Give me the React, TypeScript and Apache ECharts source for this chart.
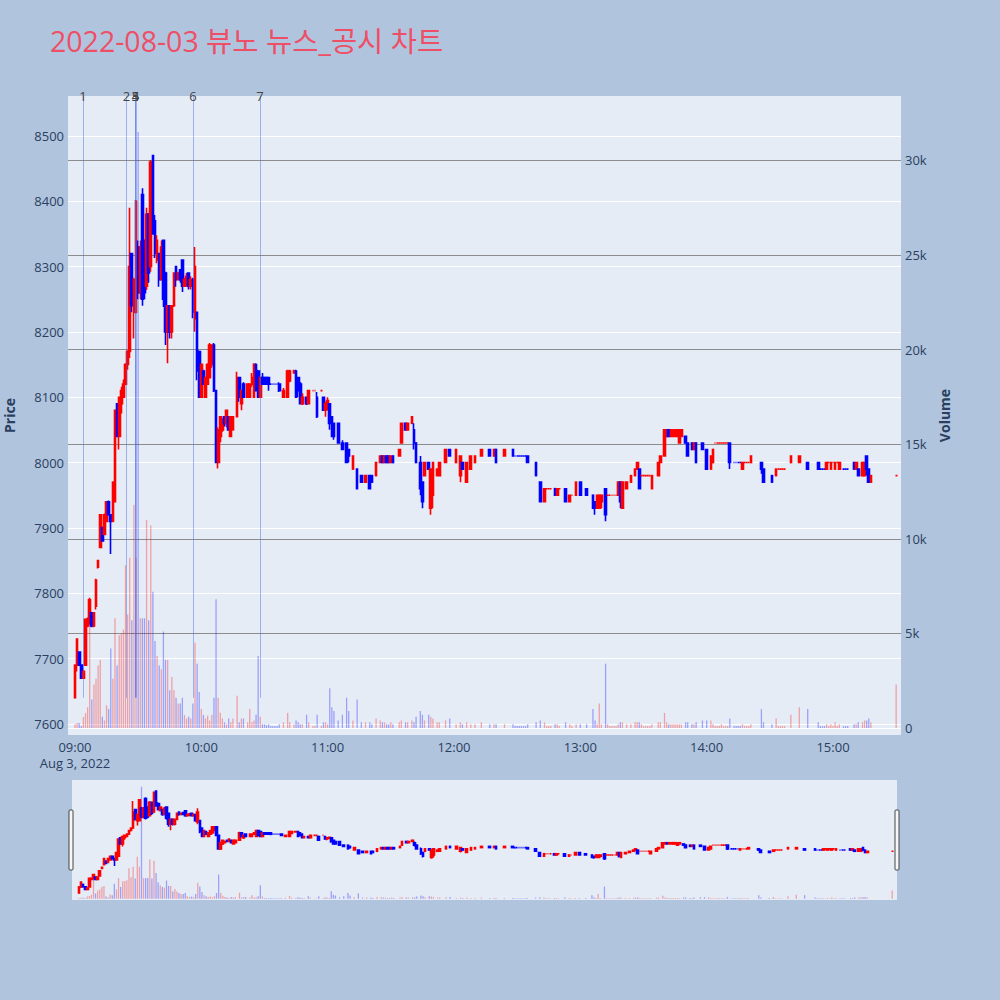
import React, { useEffect, useRef } from 'react';
import * as echarts from 'echarts';

const TITLE = '2022-08-03 뷰노 뉴스_공시 차트';
const DATE_LABEL = 'Aug 3, 2022';

// [time, open, close, low, high, volume]
type Bar = [string, number, number, number, number, number];
const bars: Bar[] = [
  ['09:00', 7640, 7690, 7640, 7690, 200], ['09:01', 7690, 7730, 7680, 7730, 260],
  ['09:02', 7710, 7690, 7690, 7710, 260], ['09:03', 7690, 7670, 7670, 7690, 100],
  ['09:04', 7670, 7680, 7670, 7683, 580], ['09:05', 7690, 7760, 7690, 7760, 790],
  ['09:06', 7750, 7760, 7748, 7763, 1100], ['09:07', 7760, 7790, 7752, 7793, 5800],
  ['09:08', 7770, 7750, 7748, 7771, 1500], ['09:09', 7750, 7770, 7748, 7771, 2300],
  ['09:10', 7780, 7820, 7775, 7822, 2600], ['09:11', 7840, 7850, 7838, 7850, 3300],
  ['09:12', 7870, 7920, 7870, 7921, 3600], ['09:13', 7900, 7880, 7880, 7902, 600],
  ['09:14', 7890, 7920, 7890, 7922, 400], ['09:15', 7910, 7940, 7910, 7940, 1200],
  ['09:16', 7940, 7920, 7920, 7942, 1000], ['09:17', 7920, 7910, 7860, 7920, 4200],
  ['09:18', 7910, 7970, 7910, 7970, 2600], ['09:19', 7940, 8080, 7940, 8080, 5800],
  ['09:20', 8090, 8040, 8040, 8091, 3300], ['09:21', 8040, 8100, 8020, 8100, 4900],
  ['09:22', 8090, 8110, 8075, 8116, 5000], ['09:23', 8100, 8120, 8100, 8127, 5200],
  ['09:24', 8120, 8150, 8119, 8152, 8600], ['09:25', 8150, 8170, 8142, 8172, 6000],
  ['09:26', 8170, 8300, 8160, 8390, 9000], ['09:27', 8320, 8240, 8230, 8321, 5700],
  ['09:28', 8230, 8280, 8190, 8283, 11800], ['09:29', 8230, 8400, 8228, 8402, 9000],
  ['09:30', 8330, 8260, 8250, 8340, 31500], ['09:31', 8260, 8330, 8250, 8340, 5800],
  ['09:32', 8410, 8250, 8240, 8420, 5800], ['09:33', 8340, 8260, 8250, 8340, 5800],
  ['09:34', 8270, 8380, 8264, 8390, 11000], ['09:35', 8380, 8290, 8275, 8382, 5700],
  ['09:36', 8300, 8460, 8292, 8463, 10700], ['09:37', 8470, 8350, 8349, 8471, 7200],
  ['09:38', 8370, 8320, 8313, 8379, 4600], ['09:39', 8310, 8340, 8305, 8348, 3800],
  ['09:40', 8320, 8280, 8269, 8320, 3300], ['09:41', 8280, 8330, 8279, 8340, 3100],
  ['09:42', 8340, 8250, 8238, 8340, 5100], ['09:43', 8290, 8200, 8180, 8292, 3600],
  ['09:44', 8200, 8240, 8152, 8241, 3600], ['09:45', 8240, 8200, 8190, 8241, 2000],
  ['09:46', 8200, 8240, 8190, 8240, 2700], ['09:47', 8240, 8290, 8238, 8290, 2000],
  ['09:48', 8300, 8280, 8269, 8300, 1600], ['09:49', 8280, 8290, 8279, 8292, 1300],
  ['09:50', 8295, 8280, 8275, 8295, 1300], ['09:51', 8310, 8270, 8261, 8310, 1600],
  ['09:52', 8270, 8280, 8269, 8283, 690], ['09:53', 8275, 8285, 8269, 8290, 500],
  ['09:54', 8290, 8270, 8265, 8290, 600], ['09:55', 8270, 8280, 8265, 8285, 500],
  ['09:56', 8280, 8230, 8221, 8283, 1300], ['09:57', 8220, 8300, 8200, 8330, 4500],
  ['09:58', 8230, 8140, 8126, 8230, 3400], ['09:59', 8170, 8100, 8100, 8172, 1900],
  ['10:00', 8100, 8150, 8100, 8152, 1000], ['10:01', 8140, 8120, 8119, 8142, 700],
  ['10:02', 8100, 8130, 8100, 8130, 500], ['10:03', 8120, 8150, 8120, 8152, 650],
  ['10:04', 8130, 8180, 8130, 8183, 400], ['10:05', 8150, 8180, 8145, 8180, 700],
  ['10:06', 8180, 8110, 8108, 8183, 1600], ['10:07', 8110, 8000, 8000, 8111, 6800],
  ['10:08', 8000, 8050, 7991, 8054, 1600], ['10:09', 8040, 8070, 8031, 8070, 800],
  ['10:10', 8050, 8060, 8047, 8068, 500], ['10:11', 8070, 8060, 8055, 8070, 300],
  ['10:12', 8060, 8080, 8054, 8080, 200], ['10:13', 8070, 8050, 8050, 8071, 500],
  ['10:14', 8040, 8070, 8039, 8070, 300], ['10:15', 8050, 8070, 8050, 8070, 500],
  ['10:17', 8070, 8130, 8070, 8139, 1700], ['10:18', 8130, 8100, 8093, 8131, 300],
  ['10:19', 8090, 8110, 8080, 8111, 500], ['10:20', 8120, 8100, 8100, 8123, 500],
  ['10:22', 8100, 8120, 8100, 8121, 300], ['10:23', 8100, 8120, 8100, 8121, 1000],
  ['10:24', 8120, 8130, 8116, 8137, 300], ['10:25', 8100, 8150, 8100, 8152, 400],
  ['10:26', 8150, 8110, 8110, 8152, 700], ['10:27', 8140, 8100, 8100, 8142, 3800],
  ['10:28', 8100, 8130, 8100, 8131, 600], ['10:29', 8130, 8120, 8119, 8137, 200],
  ['10:30', 8130, 8120, 8119, 8131, 200], ['10:31', 8130, 8120, 8119, 8131, 150],
  ['10:32', 8130, 8120, 8110, 8130, 200], ['10:33', 8120, 8120, 8120, 8120, 100],
  ['10:34', 8120, 8120, 8120, 8120, 100], ['10:35', 8120, 8120, 8120, 8120, 100],
  ['10:36', 8120, 8120, 8120, 8120, 100], ['10:37', 8120, 8110, 8108, 8123, 200],
  ['10:39', 8100, 8110, 8100, 8114, 300], ['10:41', 8100, 8140, 8100, 8142, 800],
  ['10:42', 8125, 8140, 8123, 8142, 300], ['10:44', 8137, 8140, 8137, 8142, 200],
  ['10:45', 8140, 8100, 8100, 8142, 400], ['10:46', 8130, 8110, 8100, 8131, 300],
  ['10:47', 8120, 8090, 8090, 8123, 200], ['10:48', 8090, 8100, 8088, 8106, 200],
  ['10:50', 8100, 8090, 8088, 8100, 700], ['10:51', 8090, 8110, 8090, 8110, 300],
  ['10:53', 8110, 8110, 8110, 8110, 100], ['10:54', 8110, 8110, 8110, 8110, 100],
  ['10:55', 8100, 8070, 8068, 8108, 700], ['10:57', 8110, 8110, 8110, 8110, 100],
  ['10:58', 8100, 8080, 8080, 8100, 300], ['10:59', 8080, 8090, 8070, 8093, 300],
  ['11:00', 8085, 8095, 8080, 8100, 200], ['11:01', 8090, 8060, 8050, 8090, 2100],
  ['11:02', 8070, 8040, 8039, 8070, 1100], ['11:03', 8060, 8040, 8035, 8060, 900],
  ['11:05', 8060, 8030, 8030, 8060, 400], ['11:07', 8030, 8020, 8019, 8034, 700],
  ['11:09', 8030, 8000, 8000, 8030, 1600], ['11:10', 8020, 8010, 8000, 8020, 900],
  ['11:12', 7990, 8010, 7990, 8010, 400], ['11:14', 7990, 7960, 7960, 7990, 1500],
  ['11:16', 7980, 7970, 7970, 7980, 300], ['11:18', 7970, 7980, 7970, 7980, 300],
  ['11:20', 7980, 7960, 7960, 7980, 300], ['11:21', 7980, 7970, 7970, 7980, 200],
  ['11:23', 7980, 8000, 7980, 8000, 500], ['11:25', 8000, 8010, 8000, 8010, 400],
  ['11:26', 8010, 8000, 8000, 8010, 300], ['11:27', 8000, 8010, 8000, 8010, 300],
  ['11:28', 8010, 8000, 8000, 8010, 200], ['11:29', 8010, 8000, 8000, 8010, 200],
  ['11:30', 8000, 8010, 8000, 8010, 300], ['11:31', 8010, 8000, 8000, 8010, 200],
  ['11:34', 8010, 8020, 8010, 8020, 300], ['11:35', 8030, 8060, 8030, 8060, 400],
  ['11:37', 8060, 8050, 8050, 8060, 300], ['11:38', 8050, 8060, 8050, 8060, 300],
  ['11:40', 8060, 8070, 8060, 8070, 400], ['11:41', 8050, 8030, 8020, 8060, 300],
  ['11:42', 8030, 8000, 8000, 8030, 600], ['11:44', 8000, 7960, 7950, 8010, 900],
  ['11:45', 7970, 7940, 7930, 7970, 700], ['11:46', 7980, 8000, 7980, 8000, 400],
  ['11:48', 8000, 7990, 7990, 8000, 700], ['11:49', 7930, 7990, 7920, 7990, 600],
  ['11:50', 7950, 8000, 7930, 8000, 500], ['11:52', 7980, 7990, 7980, 7990, 300],
  ['11:53', 7980, 8000, 7980, 8000, 300], ['11:56', 8000, 8020, 8000, 8020, 400],
  ['11:58', 8020, 8010, 8010, 8020, 500], ['12:01', 8000, 8020, 8000, 8020, 200],
  ['12:03', 7980, 8010, 7970, 8010, 300], ['12:04', 8000, 7990, 7990, 8000, 200],
  ['12:06', 7970, 8000, 7970, 8000, 300], ['12:08', 7990, 8010, 7990, 8010, 200],
  ['12:10', 8000, 8010, 8000, 8010, 200], ['12:13', 8010, 8020, 8010, 8020, 300],
  ['12:17', 8020, 8010, 8010, 8020, 200], ['12:19', 8010, 8020, 8010, 8020, 200],
  ['12:20', 8020, 8000, 8000, 8020, 200], ['12:24', 8010, 8020, 8010, 8020, 200],
  ['12:28', 8020, 8010, 8010, 8020, 200], ['12:29', 8010, 8010, 8010, 8010, 100],
  ['12:30', 8010, 8010, 8010, 8010, 100], ['12:31', 8010, 8010, 8010, 8010, 100],
  ['12:32', 8010, 8010, 8010, 8010, 100], ['12:33', 8010, 8010, 8010, 8010, 100],
  ['12:34', 8010, 8010, 8010, 8010, 100], ['12:35', 8010, 8000, 8000, 8010, 200],
  ['12:39', 8000, 7980, 7980, 8000, 300], ['12:41', 7970, 7940, 7940, 7970, 400],
  ['12:43', 7940, 7960, 7940, 7960, 300], ['12:44', 7960, 7960, 7960, 7960, 100],
  ['12:45', 7960, 7960, 7960, 7960, 100], ['12:46', 7960, 7960, 7960, 7960, 100],
  ['12:48', 7960, 7950, 7950, 7960, 200], ['12:49', 7950, 7960, 7950, 7960, 200],
  ['12:50', 7960, 7960, 7960, 7960, 100], ['12:53', 7960, 7940, 7940, 7960, 300],
  ['12:55', 7940, 7950, 7940, 7950, 200], ['12:56', 7950, 7950, 7950, 7950, 100],
  ['12:58', 7950, 7970, 7950, 7970, 200], ['13:00', 7970, 7950, 7950, 7970, 200],
  ['13:03', 7960, 7950, 7950, 7960, 200], ['13:06', 7950, 7930, 7930, 7950, 1000],
  ['13:07', 7940, 7930, 7920, 7940, 400], ['13:08', 7930, 7950, 7930, 7950, 200],
  ['13:09', 7930, 7950, 7930, 7950, 1300], ['13:10', 7940, 7950, 7930, 7950, 200],
  ['13:12', 7960, 7920, 7910, 7960, 3400], ['13:13', 7950, 7950, 7950, 7950, 200],
  ['13:14', 7950, 7950, 7950, 7950, 100], ['13:15', 7950, 7950, 7950, 7950, 100],
  ['13:16', 7950, 7950, 7950, 7950, 100], ['13:17', 7950, 7950, 7950, 7950, 100],
  ['13:18', 7950, 7970, 7950, 7970, 200], ['13:19', 7970, 7940, 7930, 7970, 300],
  ['13:20', 7930, 7970, 7930, 7970, 300], ['13:22', 7960, 7970, 7960, 7970, 200],
  ['13:24', 7970, 7980, 7970, 7980, 200], ['13:26', 7980, 7990, 7980, 7990, 300],
  ['13:27', 7990, 8000, 7990, 8000, 300], ['13:28', 7990, 7960, 7960, 7990, 300],
  ['13:29', 7980, 7980, 7980, 7980, 200], ['13:30', 7980, 7980, 7980, 7980, 100],
  ['13:31', 7980, 7980, 7980, 7980, 100], ['13:32', 7980, 7980, 7980, 7980, 100],
  ['13:33', 7980, 7980, 7980, 7980, 100], ['13:34', 7960, 7980, 7960, 7980, 200],
  ['13:37', 7980, 8000, 7980, 8000, 300], ['13:38', 8000, 8010, 8000, 8010, 300],
  ['13:40', 8010, 8050, 8010, 8050, 800], ['13:41', 8040, 8050, 8040, 8050, 300],
  ['13:42', 8050, 8040, 8040, 8050, 200], ['13:43', 8040, 8050, 8040, 8050, 200],
  ['13:44', 8040, 8050, 8040, 8050, 200], ['13:45', 8040, 8050, 8040, 8050, 200],
  ['13:46', 8040, 8050, 8040, 8050, 200], ['13:47', 8030, 8050, 8030, 8050, 200],
  ['13:48', 8040, 8050, 8040, 8050, 200], ['13:50', 8040, 8030, 8030, 8040, 300],
  ['13:51', 8030, 8010, 8010, 8030, 300], ['13:53', 8030, 8020, 8020, 8030, 200],
  ['13:54', 8020, 8030, 8020, 8030, 200], ['13:55', 8030, 8000, 8000, 8030, 300],
  ['13:58', 8030, 8020, 8020, 8030, 400], ['14:00', 8020, 7990, 7990, 8020, 400],
  ['14:02', 7990, 8010, 7990, 8010, 400], ['14:03', 8000, 8020, 8000, 8020, 200],
  ['14:04', 8030, 8030, 8030, 8030, 100], ['14:05', 8030, 8030, 8030, 8030, 100],
  ['14:06', 8030, 8030, 8030, 8030, 100], ['14:07', 8030, 8030, 8030, 8030, 200],
  ['14:08', 8030, 8030, 8030, 8030, 100], ['14:09', 8030, 8030, 8030, 8030, 100],
  ['14:10', 8030, 8030, 8030, 8030, 100], ['14:11', 8030, 8000, 7990, 8030, 500],
  ['14:13', 8000, 8000, 8000, 8000, 100], ['14:14', 8000, 8000, 8000, 8000, 100],
  ['14:15', 8000, 8000, 8000, 8000, 100], ['14:16', 8000, 8000, 8000, 8000, 100],
  ['14:17', 7990, 8000, 7990, 8000, 200], ['14:18', 8000, 8000, 8000, 8000, 100],
  ['14:19', 8000, 8000, 8000, 8000, 100], ['14:20', 8000, 8000, 8000, 8000, 100],
  ['14:21', 8000, 8010, 8000, 8010, 200], ['14:26', 8000, 7990, 7983, 8000, 1000],
  ['14:27', 7990, 7970, 7970, 7990, 300], ['14:31', 7980, 7970, 7970, 7980, 200],
  ['14:33', 7980, 7990, 7980, 7990, 500], ['14:34', 7990, 7990, 7990, 7990, 100],
  ['14:35', 7990, 7990, 7990, 7990, 100], ['14:36', 7990, 7990, 7990, 7990, 100],
  ['14:37', 7990, 7990, 7990, 7990, 100], ['14:40', 8000, 8010, 8000, 8010, 700],
  ['14:44', 8000, 8010, 8000, 8010, 1100], ['14:48', 8000, 7990, 7990, 8000, 1000],
  ['14:53', 8000, 7990, 7990, 8000, 300], ['14:54', 7990, 7990, 7990, 7990, 100],
  ['14:55', 7990, 7990, 7990, 7990, 100], ['14:56', 7990, 7990, 7990, 7990, 100],
  ['14:57', 7990, 8000, 7990, 8000, 200], ['14:58', 8000, 8000, 8000, 8000, 100],
  ['14:59', 7990, 8000, 7990, 8000, 200], ['15:00', 8000, 8000, 8000, 8000, 100],
  ['15:01', 7990, 8000, 7990, 8000, 300], ['15:02', 8000, 8000, 8000, 8000, 100],
  ['15:03', 7990, 8000, 7990, 8000, 200], ['15:05', 7990, 7990, 7990, 7990, 100],
  ['15:06', 7990, 7990, 7990, 7990, 100], ['15:07', 7990, 7990, 7990, 7990, 100],
  ['15:10', 8000, 7990, 7990, 8000, 200], ['15:11', 7990, 8000, 7990, 8000, 200],
  ['15:12', 7990, 7980, 7980, 7990, 300], ['15:14', 7980, 8000, 7980, 8000, 300],
  ['15:15', 7980, 8000, 7980, 8000, 400], ['15:16', 8010, 7990, 7980, 8010, 400],
  ['15:17', 7990, 7970, 7970, 7990, 500], ['15:18', 7970, 7980, 7970, 7980, 300],
  ['15:30', 7980, 7980, 7980, 7980, 2300],
];

// news / disclosure markers: [label, time]
const events: [string, string][] = [
  ['1', '09:03:48'], ['2', '09:24:28'], ['3', '09:28:38'], ['4', '09:28:45'],
  ['5', '09:28:52'], ['6', '09:56:03'], ['7', '10:27:52'],
];

const hourTicks = ['09:00', '10:00', '11:00', '12:00', '13:00', '14:00', '15:00'];
const priceTicks = [7600, 7700, 7800, 7900, 8000, 8100, 8200, 8300, 8400, 8500];
const volumeTicks = [0, 5000, 10000, 15000, 20000, 25000, 30000];
const priceRange = [7583, 8561];
const volumeRange = [-370, 33400];
const timeRange = ['08:56:41', '15:32:18'];

const UP = '#ff0000';
const DOWN = '#0000ff';
const UP_VOL = 'rgba(255,0,0,0.32)';
const DOWN_VOL = 'rgba(0,0,255,0.32)';
const TICK_COLOR = '#2a3f5f';
const FONT = '"Open Sans", "Noto Sans CJK KR", sans-serif';

const toMin = (t: string) => {
  const [h, m, s] = t.split(':');
  return (Number(h) - 9) * 60 + Number(m) + (s ? Number(s) / 60 : 0);
};

export default function App() {
  const ref = useRef<HTMLDivElement>(null);
  useEffect(() => {
    if (!ref.current) return;
    const chart = echarts.init(ref.current, undefined, { renderer: 'svg' });

    // direction: close vs open, then vs previous close, then carry previous
    const dirs: number[] = [];
    bars.forEach((b, i) => {
      const [, o, c] = b;
      const prevC = i > 0 ? bars[i - 1][2] : c;
      const d = c > o ? 1 : c < o ? -1 : c > prevC ? 1 : c < prevC ? -1 : i > 0 ? dirs[i - 1] : 1;
      dirs.push(d);
    });
    const candleData = bars.map((b, i) => {
      const col = dirs[i] > 0 ? UP : DOWN;
      return {
        value: [toMin(b[0]), b[1], b[2], b[3], b[4]],
        itemStyle: { color: col, color0: col, borderColor: col, borderColor0: col },
      };
    });
    const volData = bars.map((b, i) => ({
      value: [toMin(b[0]), b[5]],
      itemStyle: { color: dirs[i] > 0 ? UP_VOL : DOWN_VOL },
    }));
    const lowest = Math.min(...bars.map((b) => b[3]));
    const xMin = toMin(timeRange[0]);
    const xMax = toMin(timeRange[1]);
    const hourVals = hourTicks.map(toMin);

    const candleStyle = { barWidth: 2.2, itemStyle: { borderWidth: 1.6 } };

    chart.setOption({
      animation: false,
      backgroundColor: '#B0C4DE',
      textStyle: { fontFamily: FONT },
      title: {
        text: TITLE,
        left: 45,
        top: 22,
        textStyle: { color: '#EE4F66', fontSize: 28.5, fontWeight: 'normal', fontFamily: FONT },
      },
      grid: [
        { left: 68, right: 99, top: 96, bottom: 265, show: true, backgroundColor: '#E5ECF6', borderWidth: 0, outerBoundsMode: 'none' },
        { left: 72, right: 103, top: 780, height: 120, show: true, backgroundColor: '#E5ECF6', borderWidth: 0, outerBoundsMode: 'none' },
      ],
      xAxis: [
        {
          type: 'value', gridIndex: 0, min: xMin, max: xMax,
          axisLine: { show: false }, splitLine: { show: false },
          axisTick: { show: false, customValues: hourVals },
          axisLabel: {
            customValues: hourVals, color: TICK_COLOR, fontSize: 13, margin: 4, lineHeight: 16,
            formatter: (v: number) => {
              const i = hourVals.findIndex((h) => Math.abs(h - v) < 0.01);
              const lbl = i >= 0 ? hourTicks[i] : '';
              return i === 0 ? `${lbl}\n${DATE_LABEL}` : lbl;
            },
          },
        },
        {
          type: 'value', gridIndex: 1, min: xMin, max: xMax, show: false,
          splitLine: { show: false },
        },
      ],
      yAxis: [
        {
          type: 'value', gridIndex: 0, min: priceRange[0], max: priceRange[1], position: 'left',
          name: 'Price', nameLocation: 'middle', nameGap: 52, nameRotate: 90,
          nameTextStyle: { color: TICK_COLOR, fontSize: 14, fontWeight: 'bold' },
          axisLine: { show: false },
          axisTick: { show: false, customValues: priceTicks },
          axisLabel: {
            customValues: priceTicks, color: TICK_COLOR, fontSize: 13, margin: 4,
            formatter: (v: number) => String(v),
          },
          splitLine: { show: true, lineStyle: { color: '#ffffff', width: 1 } },
        },
        {
          type: 'value', gridIndex: 0, min: volumeRange[0], max: volumeRange[1], position: 'right',
          name: 'Volume', nameLocation: 'middle', nameGap: 36, nameRotate: 90,
          nameTextStyle: { color: TICK_COLOR, fontSize: 14, fontWeight: 'bold' },
          axisLine: { show: false },
          axisTick: { show: false, customValues: volumeTicks },
          axisLabel: {
            customValues: volumeTicks, color: TICK_COLOR, fontSize: 13, margin: 4,
            formatter: (v: number) => (v === 0 ? '0' : `${v / 1000}k`),
          },
          splitLine: {
            show: true,
            lineStyle: { color: ['#ffffff', '#8c8c8c', '#8c8c8c', '#8c8c8c', '#8c8c8c', '#8c8c8c', '#8c8c8c'], width: 1 },
          },
        },
        { type: 'value', gridIndex: 1, min: priceRange[0], max: priceRange[1], show: false, splitLine: { show: false } },
        { type: 'value', gridIndex: 1, min: volumeRange[0], max: volumeRange[1], show: false, splitLine: { show: false } },
      ],
      series: [
        {
          type: 'bar', name: 'Volume', xAxisIndex: 0, yAxisIndex: 1, data: volData,
          barWidth: 1.3, z: 1, silent: true,
        },
        {
          type: 'candlestick', name: 'Price', xAxisIndex: 0, yAxisIndex: 0, data: candleData,
          ...candleStyle, z: 3, silent: true,
          markLine: {
            silent: true, symbol: ['none', 'none'], animation: false,
            lineStyle: { color: 'rgba(65,105,225,0.45)', width: 1, type: 'solid' },
            label: { show: true, position: 'end', formatter: '{b}', color: '#444', fontSize: 13, distance: -6, fontFamily: FONT },
            emphasis: { disabled: true },
            data: events.map(([name, t]) => [
              { name, coord: [toMin(t), lowest] },
              { coord: [toMin(t), priceRange[1]] },
            ]),
          },
        },
        {
          type: 'bar', xAxisIndex: 1, yAxisIndex: 3, data: volData,
          barWidth: 1.3, z: 1, silent: true,
        },
        {
          type: 'candlestick', xAxisIndex: 1, yAxisIndex: 2, data: candleData,
          ...candleStyle, z: 3, silent: true,
        },
      ],
      graphic: [
        { type: 'rect', shape: { x: 69, y: 810, width: 4, height: 60, r: 1 }, style: { fill: '#f7f7f7', stroke: '#444', lineWidth: 1 } },
        { type: 'rect', shape: { x: 895, y: 810, width: 4, height: 60, r: 1 }, style: { fill: '#f7f7f7', stroke: '#444', lineWidth: 1 } },
      ],
    });
    return () => chart.dispose();
  }, []);
  return <div ref={ref} style={{ position: 'fixed', left: 0, top: 0, width: 1000, height: 1000 }} />;
}
